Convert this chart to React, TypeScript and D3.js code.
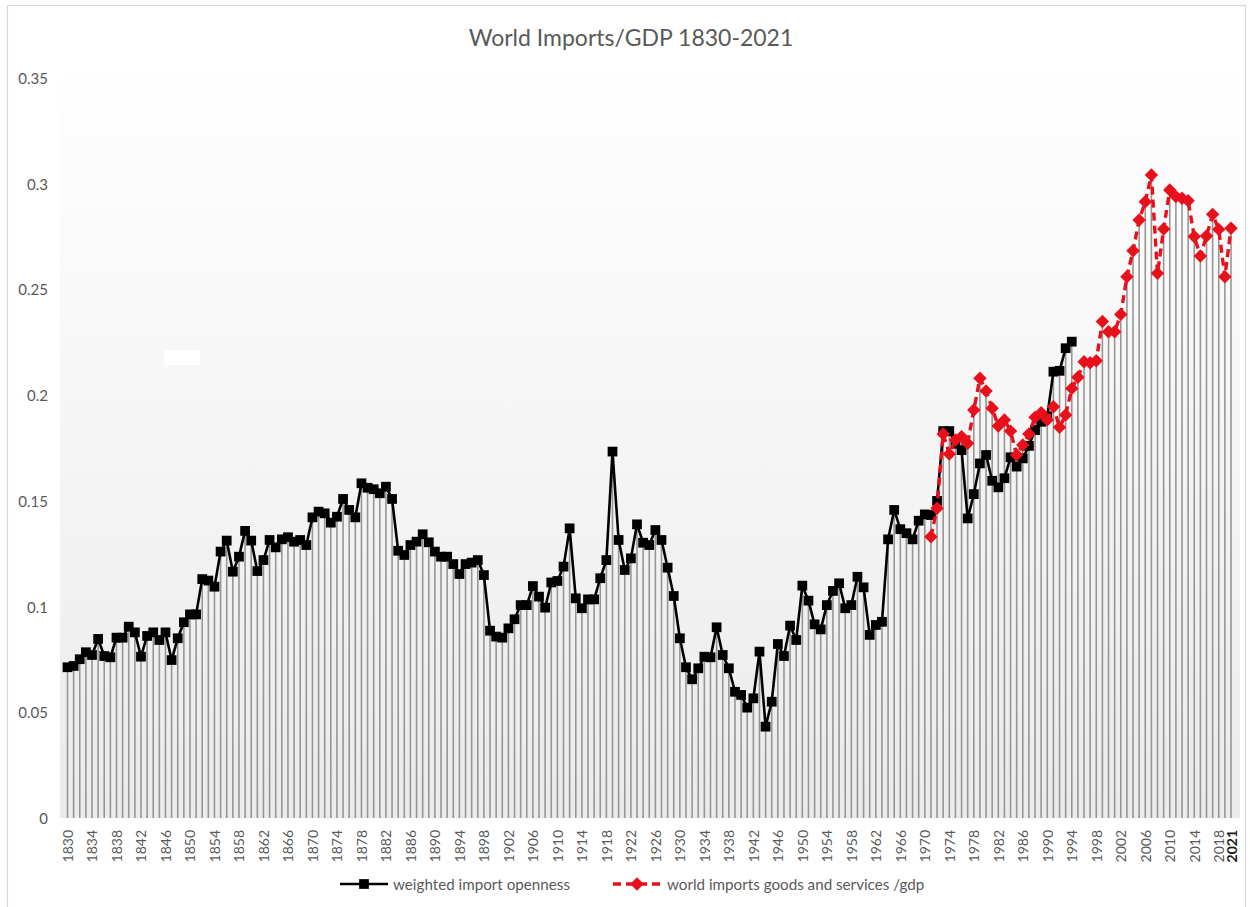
import React, { useEffect, useRef } from 'react';
import * as d3 from 'd3';

// categories: one per year on the axis
const years = d3.range(1830, 2021);

// weighted import openness, 1830-1994
const opennessStart = 1830;
const openness = [
  0.0713, 0.0719, 0.0751, 0.0784, 0.0771, 0.0847, 0.0766, 0.076, 0.0853, 0.0853,
  0.0905, 0.0878, 0.0763, 0.0861, 0.0878, 0.0842, 0.0878, 0.0747, 0.085, 0.0926,
  0.0963, 0.0963, 0.113, 0.1123, 0.1094, 0.126, 0.1312, 0.1165, 0.1236, 0.1358,
  0.1312, 0.1168, 0.122, 0.1315, 0.128, 0.1318, 0.1328, 0.1307, 0.1315, 0.1291,
  0.1422, 0.1449, 0.1441, 0.1397, 0.1425, 0.1509, 0.1457, 0.1422, 0.1583, 0.1562,
  0.1555, 0.1536, 0.1567, 0.1509, 0.1264, 0.1244, 0.1291, 0.1307, 0.1342, 0.1304,
  0.126, 0.1236, 0.1236, 0.1201, 0.1154, 0.1201, 0.1208, 0.122, 0.1149, 0.0886,
  0.0858, 0.0853, 0.0897, 0.094, 0.1007, 0.1007, 0.1097, 0.1047, 0.0995, 0.1114,
  0.1121, 0.1189, 0.137, 0.1039, 0.0992, 0.1034, 0.1034, 0.1134, 0.122, 0.1733,
  0.1315, 0.1173, 0.1228, 0.1389, 0.1302, 0.1291, 0.1362, 0.1315, 0.1184, 0.105,
  0.085, 0.0713, 0.0656, 0.0708, 0.0763, 0.076, 0.0902, 0.0771, 0.0708, 0.0597,
  0.0582, 0.0522, 0.0566, 0.0787, 0.0432, 0.055, 0.0823, 0.0766, 0.091, 0.0842,
  0.1099, 0.1028, 0.0916, 0.0892, 0.1007, 0.1074, 0.111, 0.0992, 0.1007, 0.1141,
  0.1091, 0.0866, 0.0913, 0.0928, 0.1318, 0.1457, 0.1366, 0.1347, 0.1318, 0.1406,
  0.1436, 0.1433, 0.15, 0.183, 0.183, 0.177, 0.174, 0.1417, 0.1532, 0.1677,
  0.1717, 0.1595, 0.1564, 0.1607, 0.1706, 0.1662, 0.1701, 0.176, 0.1835, 0.1874,
  0.19, 0.2111, 0.2115, 0.2222, 0.2253,
];

// world imports goods and services / gdp, 1971-2020
const importsStart = 1971;
const importsGdp = [
  0.133, 0.1465, 0.1816, 0.1722, 0.1788, 0.1804, 0.1772, 0.193, 0.208, 0.202,
  0.1938, 0.1854, 0.1883, 0.183, 0.1717, 0.1764, 0.1816, 0.1895, 0.1917, 0.1883,
  0.1945, 0.1848, 0.1906, 0.2032, 0.2085, 0.2158, 0.2153, 0.2163, 0.2348, 0.23,
  0.23, 0.2382, 0.256, 0.2683, 0.2828, 0.2915, 0.3041, 0.2576, 0.2786, 0.297,
  0.2939, 0.2931, 0.292, 0.275, 0.2658, 0.2753, 0.2855, 0.2784, 0.256, 0.2789,
];

const yTicks = [0, 0.05, 0.1, 0.15, 0.2, 0.25, 0.3, 0.35];
const yTickLabels = ['0', '0.05', '0.1', '0.15', '0.2', '0.25', '0.3', '0.35'];
const lastLabel = '2021';

const seriesNames = ['weighted import openness', 'world imports goods and services /gdp'];
const title = 'World Imports/GDP 1830-2021';

const FONT = "Lato, 'Open Sans', sans-serif";
const TEXT = '#595959';
const RED = '#e8101a';

const App = () => {
  const svgRef = useRef(null);

  useEffect(() => {
    const svg = d3.select(svgRef.current);
    svg.selectAll('*').remove();

    const W = 1250;
    const H = 907;
    const plot = { left: 60, right: 1240, top: 60, bottom: 818 };

    const x = d3.scalePoint().domain(years).range([67.5, 1231]);
    const y = d3.scaleLinear().domain([0, 0.35]).range([818, 78]);

    const blackPts = openness.map((v, i) => ({ year: opennessStart + i, v }));
    const redPts = importsGdp.map((v, i) => ({ year: importsStart + i, v }));

    // highest value per year, for the drop lines
    const tops = new Map();
    blackPts.concat(redPts).forEach(p => {
      tops.set(p.year, Math.max(tops.get(p.year) || 0, p.v));
    });

    // gradient for the plot area
    const defs = svg.append('defs');
    const grad = defs.append('linearGradient')
      .attr('id', 'plotBg').attr('x1', 0).attr('y1', 0).attr('x2', 0).attr('y2', 1);
    grad.append('stop').attr('offset', '0%').attr('stop-color', '#ffffff');
    grad.append('stop').attr('offset', '100%').attr('stop-color', '#ebebeb');

    svg.append('rect').attr('width', W).attr('height', H).attr('fill', '#ffffff');
    svg.append('rect')
      .attr('x', 7.5).attr('y', 5.5).attr('width', 1238).attr('height', 920)
      .attr('fill', 'none').attr('stroke', '#d9d9d9').attr('stroke-width', 1.2);

    svg.append('rect')
      .attr('x', plot.left).attr('y', plot.top)
      .attr('width', plot.right - plot.left).attr('height', plot.bottom - plot.top)
      .attr('fill', 'url(#plotBg)');

    // small white patch seen in the original
    svg.append('rect').attr('x', 164).attr('y', 350).attr('width', 36).attr('height', 15).attr('fill', '#ffffff');

    // drop lines
    svg.append('g').selectAll('line')
      .data(Array.from(tops.entries()))
      .join('line')
      .attr('x1', d => x(d[0])).attr('x2', d => x(d[0]))
      .attr('y1', d => y(d[1])).attr('y2', y(0))
      .attr('stroke', '#969696').attr('stroke-width', 1.6);

    const line = d3.line().x(d => x(d.year)).y(d => y(d.v));

    // black series
    svg.append('path')
      .datum(blackPts)
      .attr('d', line)
      .attr('fill', 'none').attr('stroke', '#000').attr('stroke-width', 2.6)
      .attr('stroke-linejoin', 'round');

    const square = d3.symbol().type(d3.symbolSquare).size(95);
    svg.append('g').selectAll('path')
      .data(blackPts)
      .join('path')
      .attr('d', square)
      .attr('transform', d => `translate(${x(d.year)},${y(d.v)})`)
      .attr('fill', '#000');

    // red series
    svg.append('path')
      .datum(redPts)
      .attr('d', line)
      .attr('fill', 'none').attr('stroke', RED).attr('stroke-width', 3.4)
      .attr('stroke-dasharray', '8,5');

    const diamond = d3.symbol().type(d3.symbolSquare).size(90);
    svg.append('g').selectAll('path')
      .data(redPts)
      .join('path')
      .attr('d', diamond)
      .attr('transform', d => `translate(${x(d.year)},${y(d.v)}) rotate(45)`)
      .attr('fill', RED);

    // y labels
    svg.append('g').selectAll('text')
      .data(yTicks)
      .join('text')
      .attr('x', 48).attr('y', d => y(d))
      .attr('text-anchor', 'end').attr('dominant-baseline', 'central')
      .style('font-family', FONT).style('font-size', '15px').style('fill', TEXT)
      .text((d, i) => yTickLabels[i]);

    // x labels: every 4th year, then the bold end label
    const xLabels = years.filter((yr, i) => i % 4 === 0)
      .map(yr => ({ year: yr, text: String(yr), bold: false }));
    xLabels.push({ year: years[years.length - 1], text: lastLabel, bold: true });

    svg.append('g').selectAll('text')
      .data(xLabels)
      .join('text')
      .attr('transform', d => `translate(${x(d.year)},830) rotate(-90)`)
      .attr('text-anchor', 'end').attr('dominant-baseline', 'central')
      .style('font-family', FONT).style('font-size', '14px')
      .style('font-weight', d => (d.bold ? 'bold' : 'normal'))
      .style('fill', d => (d.bold ? '#1a1a1a' : TEXT))
      .text(d => d.text);

    // title
    svg.append('text')
      .attr('x', 631).attr('y', 37)
      .attr('text-anchor', 'middle').attr('dominant-baseline', 'central')
      .style('font-family', FONT).style('font-size', '23px').style('fill', TEXT)
      .text(title);

    // legend
    const legY = 884;
    const leg = svg.append('g');
    leg.append('line').attr('x1', 340).attr('x2', 388).attr('y1', legY).attr('y2', legY)
      .attr('stroke', '#000').attr('stroke-width', 2.6);
    leg.append('path').attr('d', square).attr('transform', `translate(364,${legY})`).attr('fill', '#000');
    leg.append('text').attr('x', 393).attr('y', legY).attr('dominant-baseline', 'central')
      .style('font-family', FONT).style('font-size', '15.2px').style('fill', TEXT)
      .text(seriesNames[0]);

    leg.append('line').attr('x1', 613).attr('x2', 662).attr('y1', legY).attr('y2', legY)
      .attr('stroke', RED).attr('stroke-width', 3.4).attr('stroke-dasharray', '8,5');
    leg.append('path').attr('d', diamond).attr('transform', `translate(637,${legY}) rotate(45)`).attr('fill', RED);
    leg.append('text').attr('x', 667).attr('y', legY).attr('dominant-baseline', 'central')
      .style('font-family', FONT).style('font-size', '15.2px').style('fill', TEXT)
      .text(seriesNames[1]);
  }, []);

  return (
    <svg
      ref={svgRef}
      width={1250}
      height={907}
      style={{ position: 'absolute', left: 0, top: 0, display: 'block' }}
    />
  );
};

export default App;
